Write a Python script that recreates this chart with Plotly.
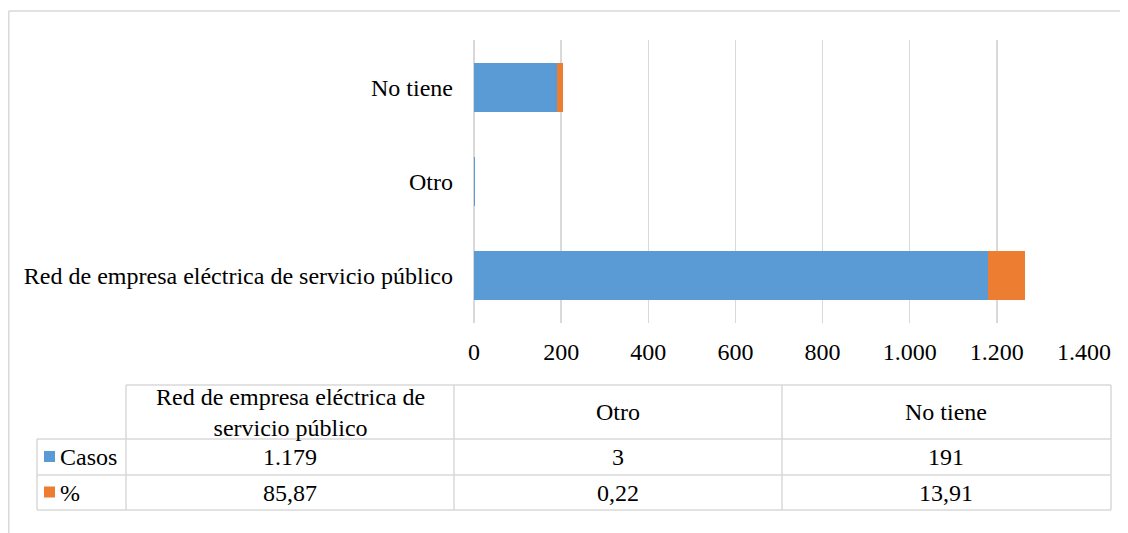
import plotly.graph_objects as go

categories = ["Red de empresa eléctrica de servicio público", "Otro", "No tiene"]
casos = [1179, 3, 191]
pct = [85.87, 0.22, 13.91]
casos_labels = ["1.179", "3", "191"]
pct_labels = ["85,87", "0,22", "13,91"]
header_labels = ["Red de empresa eléctrica de<br>servicio público", "Otro", "No tiene"]
series_names = ["Casos", "%"]
colors = ["#5B9BD5", "#ED7D31"]

W, H = 1128, 533
OFF = 8  # default page body margin offsets the figure by 8px
FONT = "Liberation Serif, Times New Roman, serif"
FS = 24
GRID = "#d9d9d9"


def px(x):
    return (x - OFF) / W


def py(y):
    return 1 - (y - OFF) / H


fig = go.Figure()
fig.add_trace(go.Bar(y=categories, x=casos, name=series_names[0], orientation="h",
                     marker=dict(color=colors[0], line=dict(width=0))))
fig.add_trace(go.Bar(y=categories, x=pct, name=series_names[1], orientation="h",
                     marker=dict(color=colors[1], line=dict(width=0))))

fig.update_layout(
    width=W, height=H,
    margin=dict(l=0, r=0, t=0, b=0, autoexpand=False),
    barmode="stack",
    bargap=0.48,
    showlegend=False,
    plot_bgcolor="white",
    paper_bgcolor="white",
    separators=",.",
    hovermode=False,
    font=dict(family=FONT, size=FS, color="#000000"),
    xaxis=dict(domain=[px(474), px(1084)], range=[0, 1400], dtick=200,
               tickformat=",d", showgrid=True, gridcolor=GRID, gridwidth=1.5,
               zeroline=True, zerolinecolor=GRID, zerolinewidth=1.5,
               showline=False, ticks="", ticklabelstandoff=12, automargin=False,
               tickfont=dict(family=FONT, size=FS)),
    yaxis=dict(domain=[py(323), py(40)], showgrid=False, zeroline=False,
               showline=False, ticks="", ticklabelstandoff=20, automargin=False,
               tickfont=dict(family=FONT, size=FS)),
)

shapes = []
line = dict(color=GRID, width=1.5)
# outer chart border (top and left visible)
shapes.append(dict(type="line", xref="paper", yref="paper",
                   x0=0.8 / W, x1=1.02, y0=py(11), y1=py(11), line=line))
shapes.append(dict(type="line", xref="paper", yref="paper",
                   x0=0.8 / W, x1=0.8 / W, y0=py(11), y1=-0.02, line=line))

# data table
col_x = [126, 454, 782, 1111]
label_x0 = 37
row_y = [385, 439, 475, 510]
shapes.append(dict(type="line", xref="paper", yref="paper", x0=px(col_x[0]), x1=px(col_x[-1]),
                   y0=py(row_y[0]), y1=py(row_y[0]), line=line))
for yy in row_y[1:]:
    shapes.append(dict(type="line", xref="paper", yref="paper", x0=px(label_x0), x1=px(col_x[-1]),
                       y0=py(yy), y1=py(yy), line=line))
shapes.append(dict(type="line", xref="paper", yref="paper", x0=px(label_x0), x1=px(label_x0),
                   y0=py(row_y[1]), y1=py(row_y[-1]), line=line))
for xx in col_x:
    shapes.append(dict(type="line", xref="paper", yref="paper", x0=px(xx), x1=px(xx),
                       y0=py(row_y[0]), y1=py(row_y[-1]), line=line))

annotations = []
for i, lab in enumerate(header_labels):
    cx = (col_x[i] + col_x[i + 1]) / 2
    annotations.append(dict(x=px(cx), y=py((row_y[0] + row_y[1]) / 2), xref="paper", yref="paper",
                            text=lab, showarrow=False, xanchor="center", yanchor="middle",
                            font=dict(family=FONT, size=FS), align="center"))
rows = [casos_labels, pct_labels]
for r, vals in enumerate(rows):
    cy = (row_y[r + 1] + row_y[r + 2]) / 2
    shapes.append(dict(type="rect", xref="paper", yref="paper",
                       x0=px(44), x1=px(55), y0=py(cy + 5), y1=py(cy - 6),
                       fillcolor=colors[r], line=dict(width=0)))
    annotations.append(dict(x=px(58), y=py(cy), xref="paper", yref="paper",
                            text=series_names[r], showarrow=False, xanchor="left", yanchor="middle",
                            font=dict(family=FONT, size=FS)))
    for i, v in enumerate(vals):
        cx = (col_x[i] + col_x[i + 1]) / 2
        annotations.append(dict(x=px(cx), y=py(cy), xref="paper", yref="paper",
                                text=v, showarrow=False, xanchor="center", yanchor="middle",
                                font=dict(family=FONT, size=FS)))

fig.update_layout(shapes=shapes, annotations=annotations)
fig.write_html("out.html", config={"displayModeBar": False, "staticPlot": True})
